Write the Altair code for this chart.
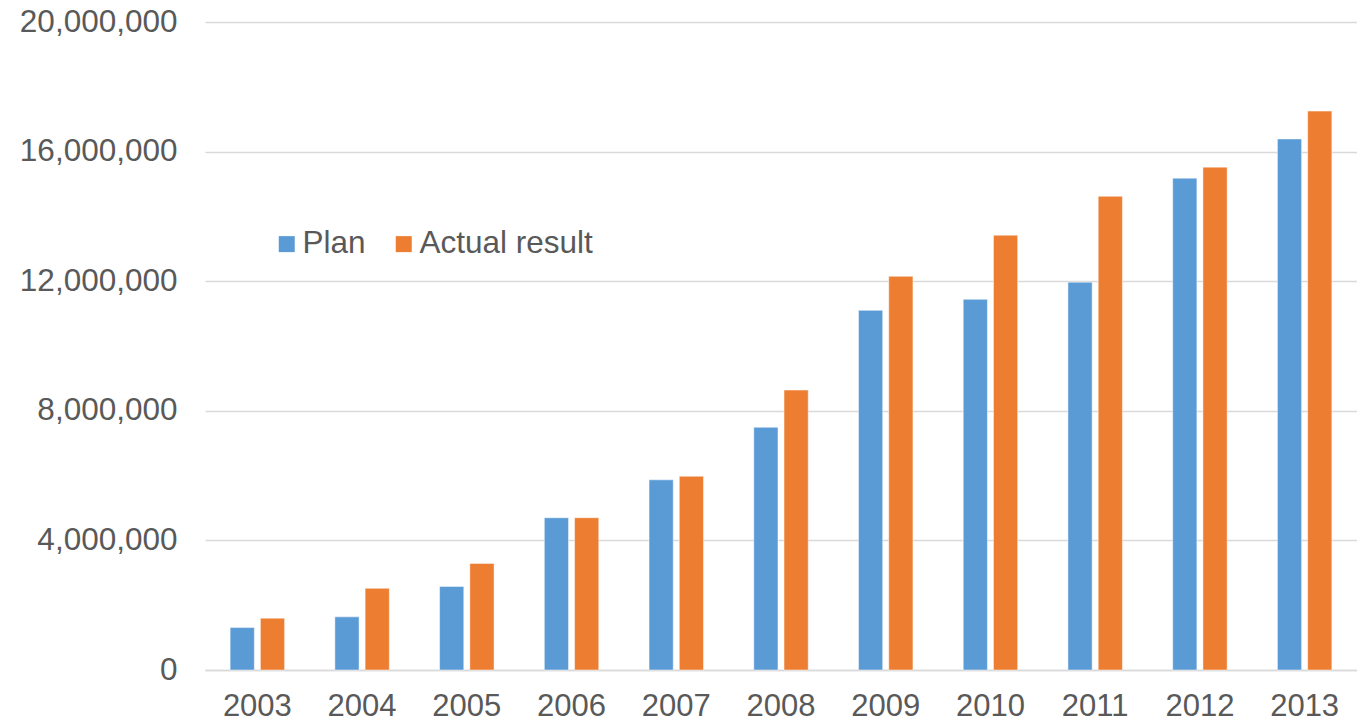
import altair as alt
import pandas as pd

years = ["2003", "2004", "2005", "2006", "2007", "2008", "2009", "2010", "2011", "2012", "2013"]
plan = [1310000, 1640000, 2580000, 4700000, 5870000, 7490000, 11100000, 11440000, 11970000, 15180000, 16390000]
actual = [1600000, 2520000, 3290000, 4700000, 5980000, 8640000, 12150000, 13420000, 14620000, 15520000, 17250000]
series = ["Plan", "Actual result"]
colors = ["#5B9BD5", "#ED7D31"]

rows = []
for i, y in enumerate(years):
    rows.append({"year": y, "series": series[0], "value": plan[i]})
    rows.append({"year": y, "series": series[1], "value": actual[i]})
df = pd.DataFrame(rows)

font = "Liberation Sans"
txt = "#595959"

chart = alt.Chart(df).mark_bar(stroke="white", strokeWidth=0.8, strokeOpacity=0.6).encode(
    x=alt.X("year:N", sort=years, title=None,
            scale=alt.Scale(paddingInner=0.48, paddingOuter=0.24),
            axis=alt.Axis(labelAngle=0, labelFontSize=31, labelFont=font, labelColor=txt,
                          ticks=False, domainColor="#d9d9d9", domainWidth=1.5,
                          labelPadding=21)),
    xOffset=alt.XOffset("series:N", sort=series, scale=alt.Scale(paddingInner=0.2)),
    y=alt.Y("value:Q", title=None,
            scale=alt.Scale(domain=[0, 20000000], nice=False),
            axis=alt.Axis(values=[0, 4000000, 8000000, 12000000, 16000000, 20000000],
                          format=",d", labelFontSize=31.5, labelFont=font, labelColor=txt,
                          ticks=False, domain=False, gridColor="#d9d9d9", gridWidth=1.5,
                          labelPadding=28)),
    color=alt.Color("series:N", sort=series,
                    scale=alt.Scale(domain=series, range=colors),
                    legend=alt.Legend(title=None, orient="none", legendX=66, legendY=206,
                                      direction="horizontal", symbolType="square",
                                      symbolSize=256, symbolStrokeWidth=0,
                                      labelFontSize=31.5, labelFont=font, labelColor=txt,
                                      labelLimit=400, labelOffset=0, columnPadding=22)),
).properties(
    width=1152, height=648,
    padding={"left": 197, "top": 14, "right": 0, "bottom": 47},
    autosize=alt.AutoSizeParams(type="none"),
).configure_view(stroke=None)

chart.save("out.html", embed_options={"renderer": "svg", "actions": False})
